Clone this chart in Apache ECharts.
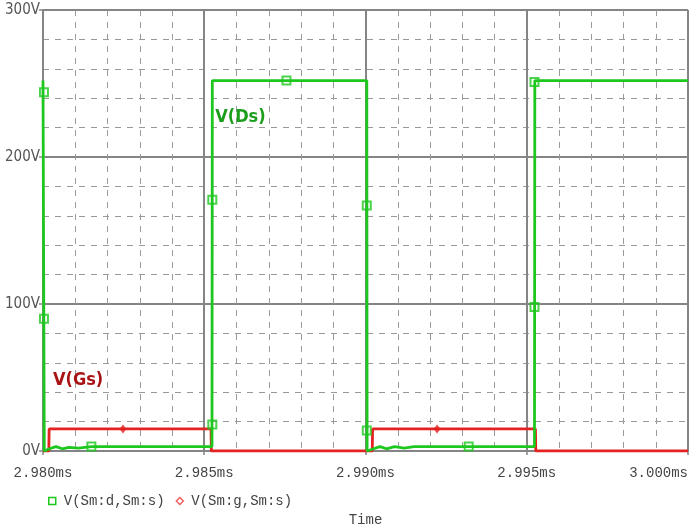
<!DOCTYPE html>
<html>
<head>
    <meta charset="utf-8">
    <title>V(Ds) / V(Gs)</title>
    <script src="https://cdn.jsdelivr.net/npm/echarts@6/dist/echarts.min.js"></script>
    <style>
    html, body { margin: 0; padding: 0; background: #fff; }
    #main { width: 692px; height: 528px; }
    </style>
</head>
<body>
    <div id="main"></div>
    <script type="text/javascript">
        // time in ms, voltage in V
        var dsTime = [2.98000, 2.98003, 2.98004, 2.98020, 2.98040, 2.98060, 2.98080, 2.98110, 2.98150, 2.98524, 2.98525, 2.99004, 2.99005, 2.99025, 2.99045, 2.99065, 2.99090, 2.99120, 2.99150, 2.99524, 2.99525, 3.00000];
        var dsVolt = [252, 252, 0, 1.5, 3, 1.5, 2.5, 2, 3, 3, 252, 252, 0, 1.5, 3, 1.5, 3, 2, 3, 3, 252, 252];
        var gsTime = [2.98000, 2.98018, 2.98019, 2.98521, 2.98522, 2.99021, 2.99022, 2.99527, 2.99528, 3.00000];
        var gsVolt = [0, 0, 15, 15, 0, 0, 15, 15, 0, 0];

        // marker positions as drawn in the probe plot
        var dsMarkTime = [2.98003, 2.98003, 2.98150, 2.98525, 2.98525, 2.98755, 2.99004, 2.99004, 2.99320, 2.99524, 2.99524];
        var dsMarkVolt = [244, 90, 3, 18, 171, 252, 167, 14, 3, 98, 251];
        var gsMarkTime = [2.98248, 2.99222];
        var gsMarkVolt = [15, 15];

        var xTicks = { min: 2.980, max: 3.000, step: 0.005 };
        var yTicks = { min: 0, max: 300, step: 100 };

        var dsName = 'V(Sm:d,Sm:s)';
        var gsName = 'V(Sm:g,Sm:s)';
        var green = '#1ec71e';
        var red = '#e42222';

        function zip(a, b) {
            return a.map(function (v, i) { return [v, b[i]]; });
        }

        var myChart = echarts.init(document.getElementById('main'));
        var gridColor = '#858585';
        var option = {
            backgroundColor: '#ffffff',
            animation: false,
            grid: { left: 43, right: 4, top: 10, bottom: 77, outerBoundsMode: 'none', containLabel: false },
            legend: {
                left: 43,
                top: 489,
                itemGap: 11,
                itemWidth: 7,
                itemHeight: 7,
                textStyle: { fontFamily: 'Liberation Mono', fontSize: 14, color: '#444', padding: [0, 0, 0, 3] },
                data: [
                    { name: dsName, icon: 'rect', itemStyle: { color: '#fff', borderColor: green, borderWidth: 1.5 } },
                    { name: gsName, icon: 'diamond', itemStyle: { color: '#fff', borderColor: '#f06060', borderWidth: 1.5 } }
                ]
            },
            xAxis: {
                type: 'value',
                min: xTicks.min,
                max: xTicks.max,
                interval: xTicks.step,
                name: 'Time',
                nameLocation: 'middle',
                nameGap: 62,
                nameTextStyle: { fontFamily: 'Liberation Mono', fontSize: 14, color: '#444' },
                axisLine: { show: true, lineStyle: { color: gridColor, width: 2 } },
                axisTick: { show: true, length: 4, lineStyle: { color: gridColor, width: 1.5 } },
                axisLabel: {
                    margin: 15,
                    fontFamily: 'Liberation Mono',
                    fontSize: 14,
                    color: '#444',
                    alignMaxLabel: 'right',
                    formatter: function (v) { return v.toFixed(3) + 'ms'; }
                },
                splitLine: { show: true, lineStyle: { color: gridColor, width: 2 } },
                minorTick: { show: false, splitNumber: 5 },
                minorSplitLine: { show: true, lineStyle: { color: '#9a9a9a', width: 1, type: [6, 6] } }
            },
            yAxis: {
                type: 'value',
                min: yTicks.min,
                max: yTicks.max,
                interval: yTicks.step,
                axisLine: { show: true, lineStyle: { color: gridColor, width: 2 } },
                axisTick: { show: true, length: 4, lineStyle: { color: gridColor, width: 1.5 } },
                axisLabel: {
                    margin: 3,
                    fontFamily: 'DejaVu Sans Condensed',
                    fontSize: 15,
                    color: '#555',
                    formatter: function (v) { return v + 'V'; }
                },
                splitLine: { show: true, lineStyle: { color: gridColor, width: 2 } },
                minorTick: { show: false, splitNumber: 5 },
                minorSplitLine: { show: true, lineStyle: { color: '#9a9a9a', width: 1, type: [6, 6] } }
            },
            series: [
                {
                    name: gsName,
                    type: 'line',
                    showSymbol: false,
                    lineStyle: { color: red, width: 2.8 },
                    itemStyle: { color: red },
                    data: zip(gsTime, gsVolt),
                    z: 3
                },
                {
                    name: dsName,
                    type: 'line',
                    showSymbol: false,
                    lineStyle: { color: green, width: 2.8 },
                    itemStyle: { color: green },
                    data: zip(dsTime, dsVolt),
                    z: 4
                },
                {
                    name: dsName,
                    type: 'scatter',
                    symbol: 'rect',
                    symbolSize: 8,
                    itemStyle: { color: 'rgba(255,255,255,0)', borderColor: green, borderWidth: 2 },
                    data: zip(dsMarkTime, dsMarkVolt),
                    z: 5
                },
                {
                    name: gsName,
                    type: 'scatter',
                    symbol: 'diamond',
                    symbolSize: [7, 9],
                    itemStyle: { color: red },
                    data: zip(gsMarkTime, gsMarkVolt),
                    z: 5
                }
            ]
        };
        myChart.setOption(option);

        // waveform annotations placed in data coordinates
        var notes = [
            { text: 'V(Ds)', t: 2.98534, v: 227, color: '#1b9e1b' },
            { text: 'V(Gs)', t: 2.98031, v: 48, color: '#a81414' }
        ];
        var graphics = notes.map(function (n) {
            var p = myChart.convertToPixel({ gridIndex: 0 }, [n.t, n.v]);
            return {
                type: 'text',
                x: p[0],
                y: p[1],
                style: {
                    text: n.text,
                    fill: n.color,
                    font: 'bold 18px "DejaVu Sans Condensed"',
                    verticalAlign: 'middle'
                },
                z: 10
            };
        });
        myChart.setOption({ graphic: graphics });
    </script>
</body>
</html>
